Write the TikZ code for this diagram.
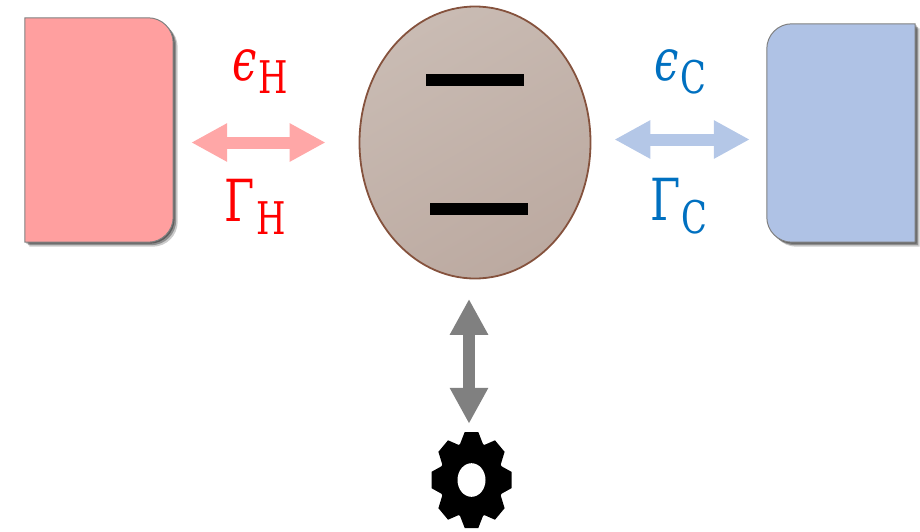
\documentclass[tikz,border=0pt]{standalone}
\usepackage{fontspec}
\usepackage{tikz}
\usetikzlibrary{positioning,arrows.meta,shapes.geometric,shadows}
\setmainfont{DejaVu Serif}
\newcommand{\ratelabel}[2]{#1\kern2pt\raisebox{-13pt}{\fontsize{45}{45}\selectfont #2}}
\definecolor{hotred}{HTML}{FF0000}
\definecolor{coldblue}{HTML}{0070C0}
\definecolor{hotfill}{HTML}{FF9F9F}
\definecolor{coldfill}{HTML}{AFC2E5}
\definecolor{hotflow}{HTML}{FFA7A7}
\definecolor{coldflow}{HTML}{B4C7E7}
\definecolor{sysedge}{HTML}{85523D}
\definecolor{systop}{HTML}{C9BBB3}
\definecolor{sysbottom}{HTML}{BCAAA1}

\begin{document}
\begin{tikzpicture}[x=1pt,y=-1pt,on grid,
   bath/.style={minimum width=148pt,inner sep=0pt},
   soft/.style={drop shadow={shadow xshift=1.5pt,shadow yshift=-1.5pt,opacity=.35,fill=black},
     drop shadow={shadow xshift=3pt,shadow yshift=-3pt,opacity=.3,fill=black},
     drop shadow={shadow xshift=4.5pt,shadow yshift=-4.5pt,opacity=.2,fill=black}},
   level/.style={fill=black,minimum width=98pt,minimum height=12pt,inner sep=0pt},
   flow/.style={{Triangle[length=36pt,width=36pt]}-{Triangle[length=36pt,width=36pt]},line width=12pt},
   rate/.style={xscale=.75,inner sep=0pt,font=\fontsize{58}{58}\selectfont}]
 \useasboundingbox (0,0) rectangle (920,531);
 \node[ellipse,draw=sysedge,line width=1.8pt,minimum width=231pt,minimum height=272pt,inner sep=0pt,
   top color=systop,bottom color=sysbottom,shading angle=30] (sys) at (475,142.5) {};
 \node[level] (upper) [above=62.5pt of sys] {};
 \node[level] (lower) [below right=66.5pt and 4pt of sys] {};
 \node[bath,minimum height=224pt] (hot) [above left=12.5pt and 376pt of sys] {};
 \node[bath,minimum height=218pt] (cold) [above right=9.5pt and 366pt of sys] {};
 \node[ellipse,minimum width=80pt,minimum height=96pt,inner sep=0pt] (gear) [below left=337.5pt and 3.5pt of sys] {};
 % baths, flat on the outer side
 \filldraw[draw=black!50,fill=hotfill,line width=1pt,soft]
   (hot.south west) -- (hot.north west) [rounded corners=25pt] -- (hot.north east) -- (hot.south east) [sharp corners] -- cycle;
 \filldraw[draw=black!50,fill=coldfill,line width=1pt,soft]
   (cold.south east) -- (cold.north east) [rounded corners=25pt] -- (cold.north west) -- (cold.south west) [sharp corners] -- cycle;
 % gear
 \begin{scope}[shift={(gear.center)},xscale=40,yscale=48]
  \fill (0,0) circle (.8);
  \foreach \a in {0,45,...,315}
   \fill[rotate=\a] (.72,-.3) -- (1,-.17) -- (1,.17) -- (.72,.3) -- cycle;
  \fill[white] (0,0) circle (.35);
 \end{scope}
 % couplings
 \draw[flow,draw=hotflow,shorten <=18pt,shorten >=33pt] (hot.east |- sys.center) -- (sys.west);
 \draw[flow,draw=coldflow,shorten <=23pt,shorten >=17pt] ([yshift=3pt]sys.east) -- ([yshift=3pt]cold.west |- sys.center);
 \draw[flow,draw=black!50,shorten <=19.5pt,shorten >=8pt] ([xshift=-2.5pt]gear.north |- sys.south) -- ([xshift=-2.5pt]gear.north);
 % labels
 \node[rate,text=hotred] (epsH) [above left=71pt and 215pt of sys] {\ratelabel{\textit{ϵ}}{H}};
 \node[rate,text=hotred] (gamH) [below left=64pt and 220pt of sys] {\ratelabel{Γ}{H}};
 \node[rate,text=coldblue] (epsC) [above right=71pt and 205pt of sys] {\ratelabel{\textit{ϵ}}{C}};
 \node[rate,text=coldblue] (gamC) [below right=64pt and 204pt of sys] {\ratelabel{Γ}{C}};
\end{tikzpicture}
\end{document}
